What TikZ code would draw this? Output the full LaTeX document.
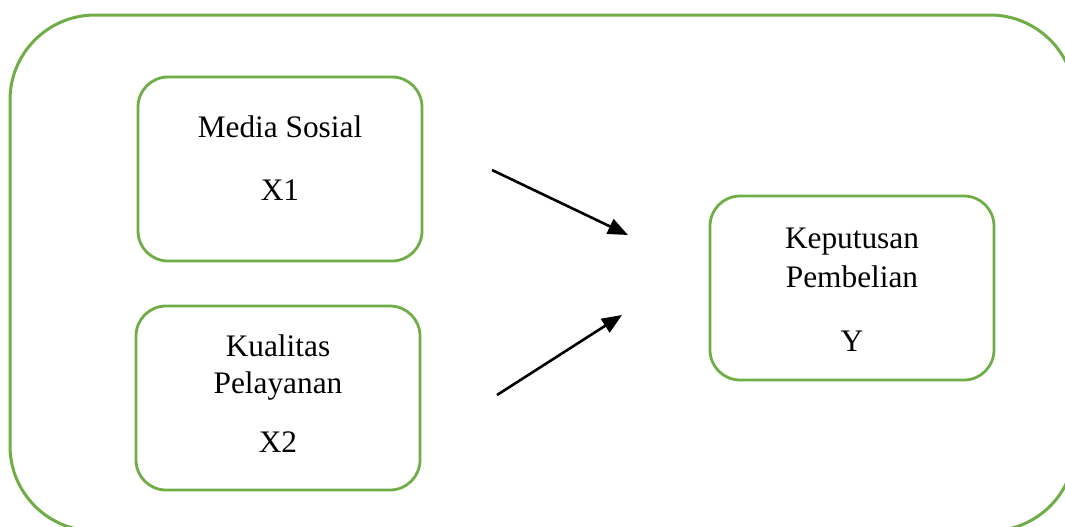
\documentclass[tikz,border=0pt]{standalone}
\usepackage{fontspec}
\setmainfont{Liberation Serif}
\usetikzlibrary{arrows.meta}
\definecolor{boxgreen}{RGB}{112,173,71}
\begin{document}
\begin{tikzpicture}[x=0.75pt,y=-0.75pt,
  outerbox/.style={draw=boxgreen,line width=3pt*0.75,rounded corners=85*0.75pt},
  varbox/.style={draw=boxgreen,line width=2.8pt*0.75,rounded corners=30*0.75pt,minimum width=284*0.75pt,minimum height=184*0.75pt,inner sep=0pt},
  lbl/.style={font=\fontsize{23.5}{28}\selectfont,inner sep=0pt,anchor=base},
  arr/.style={-{Triangle[length=15pt,width=12pt]},line width=2.6pt*0.75,black}]
\useasboundingbox (0,0) rectangle (1065,526);
\clip (0,0) rectangle (1065,526);
\draw[outerbox] (10,15) rectangle (1075,531);
\node[varbox] (x1) at (280,169) {};
\node[varbox] (x2) at (278,398) {};
\node[varbox] (y) at (852,288) {};
\node[lbl] (x1a) at (280,137) {Media Sosial};
\node[lbl] (x1b) at (280,200) {X1};
\node[lbl] (x2a) at (278,356) {Kualitas};
\node[lbl] (x2b) at (278,393) {Pelayanan};
\node[lbl] (x2c) at (278,452) {X2};
\node[lbl] (ya) at (852,248) {Keputusan};
\node[lbl] (yb) at (852,287) {Pembelian};
\node[lbl] (yc) at (852,351) {Y};
\coordinate (a1s) at (492,170);
\coordinate (a1e) at (628,235);
\coordinate (a2s) at (497,395);
\coordinate (a2e) at (622,315);
\draw[arr] (a1s) -- (a1e);
\draw[arr] (a2s) -- (a2e);
\end{tikzpicture}
\end{document}
